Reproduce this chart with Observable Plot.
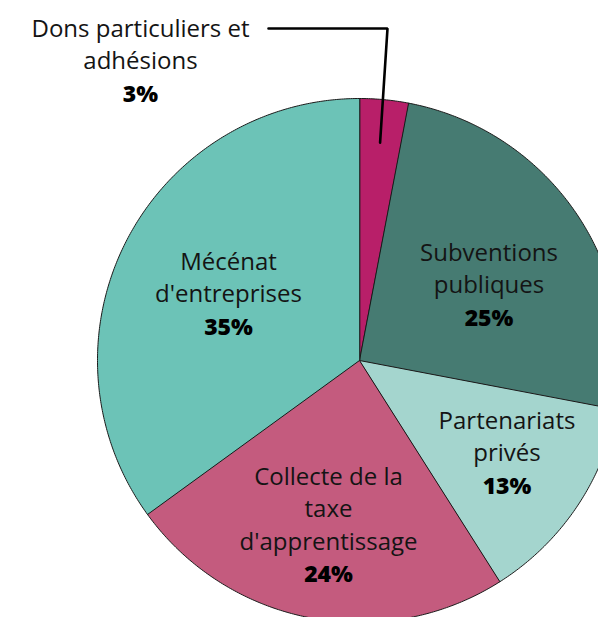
<!DOCTYPE html>
<html><head><meta charset="utf-8">
<script src="https://cdn.jsdelivr.net/npm/d3@7"></script>
<script src="https://cdn.jsdelivr.net/npm/@observablehq/plot@0.6"></script>
<style>
html,body{margin:0;padding:0;background:#fff;overflow:hidden;}
</style></head><body><div id="chart"></div>
<script>
// ---- data ----
const categories = ["Dons particuliers et adhésions", "Subventions publiques", "Partenariats privés", "Collecte de la taxe d'apprentissage", "Mécénat d'entreprises"];
const labelLines = [["Dons particuliers et", "adhésions"], ["Subventions", "publiques"], ["Partenariats", "privés"], ["Collecte de la", "taxe", "d'apprentissage"], ["Mécénat", "d'entreprises"]];
const shares = [3, 25, 13, 24, 35];
const colors = ["#b81f69", "#467b72", "#a4d5ce", "#c45b7e", "#6cc3b7"];

// ---- layout ----
const W = 598, H = 617, CX = 359, CY = 360, R = 262;
const LH = 32.5, FS = 24, FS_PCT = 23;
const FONT = "'Open Sans', Lato, sans-serif";
// label anchor: [center x px, first-line baseline px]
const labelAnchors = [[140, 36], [488.5, 260], [506.5, 428], [328, 484], [228, 269]];
const leader = {startPx: 268, elbowPx: 387, elbowPy: 28, endR: 0.835};

const toX = px => (px - CX) / R;
const toY = py => (CY - py) / R;

const arcs = d3.pie().sort(null).value(d => d)(shares);

const slices = arcs.map((a) => {
  const pts = [{x: 0, y: 0}];
  const steps = Math.max(2, Math.ceil((a.endAngle - a.startAngle) / (Math.PI / 360)));
  for (let k = 0; k <= steps; k++) {
    const t = a.startAngle + (a.endAngle - a.startAngle) * k / steps;
    pts.push({x: Math.sin(t), y: Math.cos(t)});
  }
  return pts;
});

const nameTexts = [], pctTexts = [];
arcs.forEach((a, i) => {
  const [px, py] = labelAnchors[i];
  const lines = labelLines[i];
  lines.forEach((t, k) => nameTexts.push({x: toX(px), y: toY(py + k * LH), text: t}));
  pctTexts.push({x: toX(px), y: toY(py + lines.length * LH), text: shares[i] + "%"});
});

const a0 = arcs[0], mid0 = (a0.startAngle + a0.endAngle) / 2;
const leaderPts = [
  {x: toX(leader.startPx), y: toY(leader.elbowPy)},
  {x: toX(leader.elbowPx), y: toY(leader.elbowPy)},
  {x: leader.endR * Math.sin(mid0), y: leader.endR * Math.cos(mid0)}
];

const chart = Plot.plot({
  width: W, height: H,
  margin: 0,
  x: {domain: [toX(0), toX(W)], axis: null},
  y: {domain: [toY(H), toY(0)], axis: null},
  style: {background: "#fff", fontFamily: FONT},
  marks: [
    ...slices.map((pts, i) => Plot.line(pts, {x: "x", y: "y", fill: colors[i], stroke: "#1a1a1a", strokeWidth: 1, curve: "linear-closed", strokeLinejoin: "miter", clip: true})),
    Plot.line(leaderPts, {x: "x", y: "y", stroke: "#000", strokeWidth: 2.6, strokeLinejoin: "miter"}),
    Plot.text(nameTexts, {x: "x", y: "y", text: "text", lineAnchor: "bottom", fontSize: FS, fill: "#141414", fontFamily: FONT, fontWeight: 400}),
    Plot.text(pctTexts, {x: "x", y: "y", text: "text", lineAnchor: "bottom", fontSize: FS_PCT, fill: "#000", fontFamily: FONT, fontWeight: 800})
  ]
});
document.getElementById("chart").appendChild(chart);
</script>
</body></html>
